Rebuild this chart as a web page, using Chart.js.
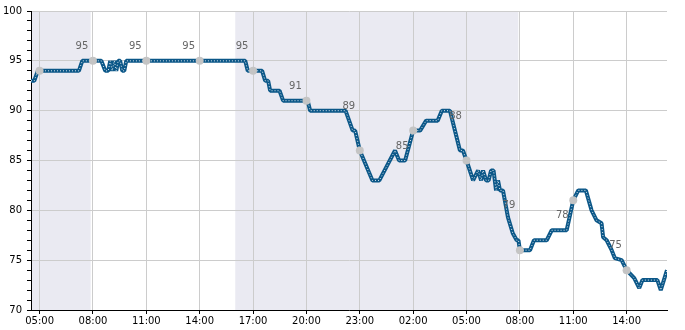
<!DOCTYPE html>
<html>
<head>
<meta charset="utf-8">
<script src="https://cdn.jsdelivr.net/npm/chart.js@4.4.1/dist/chart.umd.min.js"></script>
<style>
  html, body { margin: 0; padding: 0; background: #fff; }
  #wrap { width: 685px; height: 330px; }
</style>
</head>
<body>
<div id="wrap"><canvas id="chart"></canvas></div>
<script>
// hours counted from midnight of the first day (29 = 05:00 next day)
const lineHours = [4.517, 4.70, 4.90, 5.0, 7.21, 7.40, 8.0, 8.47, 8.69, 8.86, 8.97, 9.08, 9.20, 9.31, 9.42, 9.53, 9.65, 9.76, 9.87,
  16.56, 16.70, 17.0, 17.51, 17.68, 17.85, 17.96, 18.49, 18.69, 20.0, 20.07, 20.21, 22.20, 22.60, 22.74, 23.0,
  23.71, 24.10, 24.98, 25.21, 25.55, 26.0, 26.39, 26.73, 27.38, 27.61, 28.07, 28.63, 28.80, 29.0,
  29.37, 29.65, 29.82, 29.93, 30.10, 30.24, 30.38, 30.52, 30.66, 30.77, 30.88, 31.05, 31.33, 31.60, 31.82, 31.92, 32.0,
  32.57, 32.79, 33.51, 33.79, 34.63, 35.0, 35.28, 35.71, 36.03, 36.31, 36.59, 36.68, 36.88, 37.16, 37.34, 37.72, 38.0,
  38.43, 38.71, 38.89, 39.73, 39.92, 40.27];
const lineValues = [93, 93, 94, 94, 94, 95, 95, 95, 94, 94, 95, 94, 95, 94, 95, 95, 94, 94, 95,
  95, 94, 94, 94, 93, 93, 92, 92, 91, 91, 91, 90, 90, 88, 88, 86,
  83, 83, 86, 85, 85, 88, 88, 89, 89, 90, 90, 86, 86, 85,
  83, 84, 83, 84, 83, 83, 84, 84, 82, 83, 82, 82, 79.3, 77.7, 77, 77, 76,
  76, 77, 77, 78, 78, 81, 82, 82, 80, 79, 78.7, 77.3, 77, 76, 75.2, 75, 74,
  73.2, 72.2, 73, 73, 72, 74];

const markerHours = [5, 8, 11, 14, 17, 20, 23, 26, 29, 32, 35, 38];
const markerValues = [94, 95, 95, 95, 94, 91, 86, 88, 85, 76, 81, 74];

const forecastHours = [8, 11, 14, 17, 20, 23, 26, 29, 32, 35, 38];
const forecastValues = [95, 95, 95, 95, 91, 89, 85, 88, 79, 78, 75];

const tickHours = [5, 8, 11, 14, 17, 20, 23, 26, 29, 32, 35, 38];
const nightSpans = [[4.517, 7.87], [16.0, 31.91]];

const X_MIN = 4.517, X_MAX = 40.27, Y_MIN = 70, Y_MAX = 100;

function pts(xs, ys) {
  return xs.map((x, i) => ({ x: x, y: ys[i] }));
}

function hourLabel(v) {
  const h = ((v % 24) + 24) % 24;
  return String(h).padStart(2, '0') + ':00';
}

// shaded night bands, painted before the grid
const nightShade = {
  id: 'nightShade',
  beforeDraw(chart) {
    const { ctx, chartArea, scales } = chart;
    ctx.save();
    ctx.fillStyle = '#eaeaf2';
    nightSpans.forEach(([a, b]) => {
      const x1 = scales.x.getPixelForValue(Math.max(a, X_MIN));
      const x2 = scales.x.getPixelForValue(Math.min(b, X_MAX));
      ctx.fillRect(x1, chartArea.top, x2 - x1, chartArea.bottom - chartArea.top);
    });
    ctx.restore();
  }
};

// forecast numbers written next to the hourly markers
const forecastText = {
  id: 'forecastText',
  afterDatasetsDraw(chart) {
    const { ctx, scales } = chart;
    ctx.save();
    ctx.fillStyle = '#666666';
    ctx.font = '10px "DejaVu Sans", sans-serif';
    ctx.textAlign = 'center';
    ctx.textBaseline = 'alphabetic';
    forecastHours.forEach((h, i) => {
      const px = scales.x.getPixelForValue(h) - 11;
      const py = scales.y.getPixelForValue(forecastValues[i]) - 12;
      ctx.fillText(String(forecastValues[i]), px, py);
    });
    ctx.restore();
  }
};

Chart.defaults.font.family = '"DejaVu Sans", sans-serif';
Chart.defaults.font.size = 10;
Chart.defaults.color = '#000';

new Chart(document.getElementById('chart'), {
  type: 'line',
  data: {
    datasets: [
      {
        data: pts(markerHours, markerValues),
        showLine: false,
        pointRadius: 4,
        pointBackgroundColor: '#c4c4c4',
        pointBorderWidth: 0,
        order: 0
      },
      {
        data: pts(lineHours, lineValues),
        borderColor: 'rgba(255,255,255,0.85)',
        borderWidth: 1,
        borderDash: [1, 2],
        pointRadius: 0,
        tension: 0,
        order: 1
      },
      {
        data: pts(lineHours, lineValues),
        borderColor: '#0b5788',
        borderWidth: 4,
        borderJoinStyle: 'bevel',
        pointRadius: 0,
        tension: 0,
        order: 2
      }
    ]
  },
  options: {
    responsive: true,
    maintainAspectRatio: false,
    animation: false,
    layout: { padding: { top: 10, right: 18, bottom: 0, left: 0 } },
    plugins: {
      legend: { display: false },
      tooltip: { enabled: false }
    },
    scales: {
      x: {
        type: 'linear',
        min: X_MIN,
        max: X_MAX,
        afterBuildTicks: (scale) => {
          scale.ticks = tickHours.map(v => ({ value: v }));
        },
        afterFit: (scale) => { scale.height = 20; },
        ticks: {
          autoSkip: false,
          maxRotation: 0,
          padding: 1,
          color: '#000',
          callback: (v) => hourLabel(v)
        },
        grid: {
          color: '#cccccc',
          tickColor: '#000',
          tickLength: 4
        },
        border: { color: '#000', width: 1 }
      },
      y: {
        min: Y_MIN,
        max: Y_MAX,
        afterFit: (scale) => { scale.width = 31; },
        ticks: {
          stepSize: 1,
          autoSkip: false,
          padding: 5,
          color: '#000',
          callback: (v) => (v % 5 === 0 ? String(v) : '')
        },
        grid: {
          color: (c) => (c.tick && c.tick.value % 5 === 0 ? '#cccccc' : 'rgba(0,0,0,0)'),
          tickColor: '#000',
          tickLength: 4
        },
        border: { color: '#000', width: 1 }
      }
    }
  },
  plugins: [nightShade, forecastText]
});
</script>
</body>
</html>
